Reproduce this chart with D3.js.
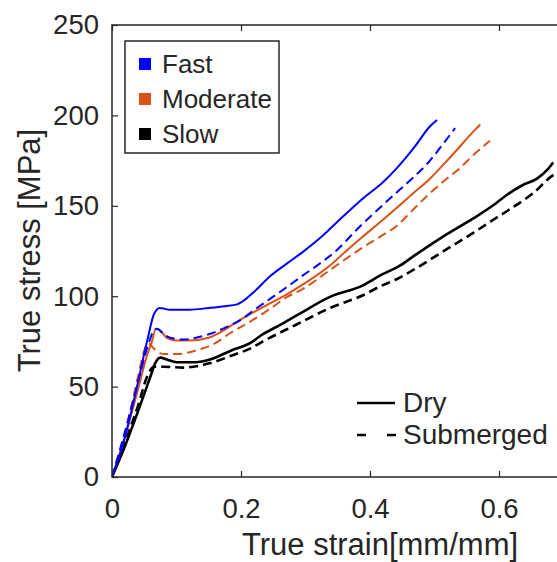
<!DOCTYPE html>
<html>
<head>
<meta charset="utf-8">
<script src="https://cdn.jsdelivr.net/npm/d3@7"></script>
<style>
  html, body { margin: 0; padding: 0; background: #fff; }
  svg { display: block; }
  text { font-family: "Liberation Sans", Arial, sans-serif; fill: #262626; }
</style>
</head>
<body>
<svg id="chart" width="557" height="562"></svg>
<script>
// ---- data (strain [mm/mm], stress [MPa]) ----
const xTicks = [0, 0.2, 0.4, 0.6];
const yTicks = [0, 50, 100, 150, 200, 250];
const rateLabels = ["Fast", "Moderate", "Slow"];
const rateColors = ["#0000ff", "#d95319", "#000000"];
const conditionLabels = ["Dry", "Submerged"];

const fastDry = [[0,0],[0.02,22],[0.04,52],[0.055,76],[0.065,90],[0.074,93.5],[0.09,92.5],[0.12,92.5],[0.15,93.5],[0.175,94.5],[0.194,95.5],[0.219,102],[0.245,111],[0.271,118],[0.296,124.5],[0.322,132],[0.352,142],[0.389,154],[0.42,163],[0.442,171],[0.47,183],[0.493,194],[0.504,197.5]];
const fastSub = [[0,0],[0.02,25],[0.04,52],[0.055,72],[0.065,81],[0.07,82],[0.08,79],[0.09,77],[0.11,76],[0.13,77],[0.155,79.5],[0.178,83],[0.2,87],[0.219,92],[0.245,98.5],[0.271,105],[0.296,111.5],[0.322,118],[0.35,126],[0.38,137],[0.411,147.5],[0.437,156],[0.462,164],[0.493,175],[0.515,185],[0.532,193]];
const modDry = [[0,0],[0.02,22],[0.04,48],[0.055,68],[0.062,75],[0.068,82],[0.075,81],[0.085,77],[0.1,75.5],[0.12,75.5],[0.15,77],[0.175,81.5],[0.194,86],[0.219,91],[0.245,96],[0.271,101],[0.296,106.5],[0.338,117],[0.36,124],[0.389,133],[0.416,141],[0.442,149],[0.467,157],[0.49,164],[0.509,171],[0.535,181],[0.56,191],[0.571,195]];
const modSub = [[0,0],[0.02,24],[0.04,55],[0.05,70],[0.056,74],[0.065,71],[0.08,68],[0.1,68],[0.13,70],[0.16,74],[0.183,79.5],[0.219,87],[0.245,93],[0.271,99.5],[0.296,104],[0.338,114.5],[0.389,127],[0.416,133],[0.442,139],[0.467,148],[0.49,156],[0.519,165],[0.54,171],[0.56,178],[0.586,186]];
const slowDry = [[0,0],[0.02,17],[0.04,36],[0.06,56],[0.067,63],[0.075,66],[0.085,65],[0.1,63.5],[0.13,63.5],[0.152,65],[0.185,70],[0.214,74],[0.234,79],[0.26,84],[0.287,89.5],[0.338,99.6],[0.389,106],[0.416,111.5],[0.447,117],[0.467,122],[0.509,132],[0.56,143],[0.59,150],[0.612,156],[0.637,161.5],[0.659,165],[0.675,170],[0.684,174]];
const slowSub = [[0,0],[0.02,19],[0.04,39],[0.055,56],[0.065,61],[0.08,61],[0.11,60.5],[0.152,63],[0.188,67.5],[0.214,71],[0.234,75],[0.287,84.5],[0.338,93.5],[0.389,100.5],[0.416,105.5],[0.442,109.5],[0.467,114.5],[0.519,126],[0.56,135],[0.59,142],[0.612,147],[0.653,157],[0.684,167],[0.695,169]];

const series = [
  { data: slowDry, rate: 2, dashed: false },
  { data: slowSub, rate: 2, dashed: true },
  { data: modDry,  rate: 1, dashed: false },
  { data: modSub,  rate: 1, dashed: true },
  { data: fastDry, rate: 0, dashed: false },
  { data: fastSub, rate: 0, dashed: true }
];

// ---- layout ----
const svg = d3.select("#chart");
const L = 112, R = 563.5, T = 25, B = 477;
const x = d3.scaleLinear().domain([0, 0.7]).range([L, R]);
const y = d3.scaleLinear().domain([0, 250]).range([B, T]);
const axisColor = "#262626";

svg.append("defs").append("clipPath").attr("id", "clip")
  .append("rect").attr("x", L).attr("y", T).attr("width", R - L).attr("height", B - T);

// curves
const line = d3.line().x(d => x(d[0])).y(d => y(d[1])).curve(d3.curveMonotoneX);
const gLines = svg.append("g").attr("clip-path", "url(#clip)");
series.forEach(s => {
  gLines.append("path")
    .attr("d", line(s.data))
    .attr("fill", "none")
    .attr("stroke", rateColors[s.rate])
    .attr("stroke-width", s.rate === 2 ? 2.6 : 2)
    .attr("stroke-linejoin", "round")
    .attr("stroke-dasharray", s.dashed ? "9,5" : null);
});

// axes
const fontTick = "27.5px";
const gx = svg.append("g").attr("transform", `translate(0,${B})`)
  .call(d3.axisBottom(x).tickValues(xTicks).tickSizeInner(-6).tickSizeOuter(0).tickPadding(21.5)
    .tickFormat(d => d === 0 ? "0" : d3.format(".1f")(d)));
const gxt = svg.append("g").attr("transform", `translate(0,${T})`)
  .call(d3.axisTop(x).tickValues(xTicks).tickSizeInner(-6).tickSizeOuter(0).tickFormat(""));
const gy = svg.append("g").attr("transform", `translate(${L},0)`)
  .call(d3.axisLeft(y).tickValues(yTicks).tickSizeInner(-6).tickSizeOuter(0).tickPadding(13));
const gyr = svg.append("g").attr("transform", `translate(${R},0)`)
  .call(d3.axisRight(y).tickValues(yTicks).tickSizeInner(-6).tickSizeOuter(0).tickFormat(""));
[gx, gxt, gy, gyr].forEach(g => {
  g.select(".domain").remove();
  g.selectAll(".tick line").attr("stroke", axisColor).attr("stroke-width", 1.2);
  g.selectAll(".tick text").attr("font-size", fontTick).attr("fill", axisColor)
    .attr("font-family", "'Liberation Sans', Arial, sans-serif");
});

svg.append("rect").attr("x", L).attr("y", T).attr("width", R - L).attr("height", B - T)
  .attr("fill", "none").attr("stroke", axisColor).attr("stroke-width", 1.5);

// axis titles
svg.append("text").attr("x", 380).attr("y", 555).attr("text-anchor", "middle")
  .attr("font-size", "31px").text("True strain[mm/mm]");
svg.append("text").attr("transform", "translate(40,250.5) rotate(-90)")
  .attr("text-anchor", "middle").attr("font-size", "31px").text("True stress [MPa]");

// rate legend
const lg = svg.append("g");
lg.append("rect").attr("x", 125).attr("y", 41).attr("width", 154).attr("height", 112)
  .attr("fill", "#fff").attr("stroke", axisColor).attr("stroke-width", 1.5);
rateLabels.forEach((lab, i) => {
  const cy = 64 + i * 35;
  lg.append("rect").attr("x", 139).attr("y", cy - 6).attr("width", 12).attr("height", 12)
    .attr("fill", rateColors[i]);
  lg.append("text").attr("x", 162).attr("y", cy + 8.5).attr("font-size", "26px").text(lab);
});

// condition legend
const cg = svg.append("g");
conditionLabels.forEach((lab, i) => {
  const cy = 403 + i * 32;
  cg.append("line").attr("x1", 357).attr("x2", i === 0 ? 395 : 397).attr("y1", cy).attr("y2", cy)
    .attr("stroke", "#000").attr("stroke-width", 2.6)
    .attr("stroke-dasharray", i === 0 ? null : "9,21");
  cg.append("text").attr("x", 403).attr("y", cy + 9).attr("font-size", "28px").text(lab);
});
</script>
</body>
</html>
